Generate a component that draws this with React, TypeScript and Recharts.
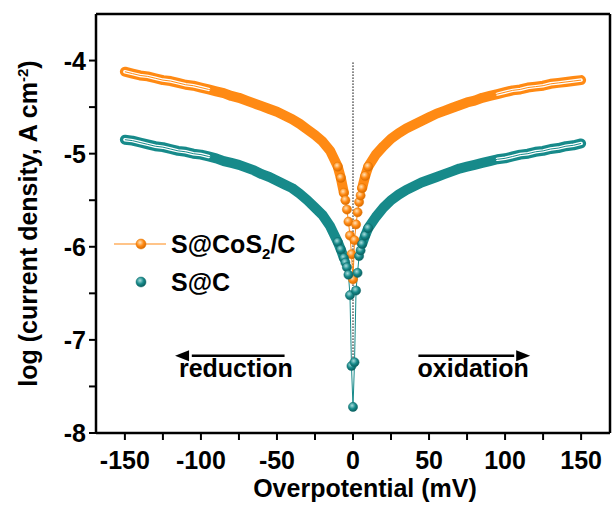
import React from 'react';
import { LineChart, Line, XAxis, YAxis, ReferenceLine, ReferenceDot } from 'recharts';

// overpotential grid (mV), shared by both curves
const potential = [
  -150, -145, -140, -135, -130, -125, -120, -115, -110, -105, -100, -95, -90, -85, -80, -75, -70, -65, -60, -55,
  -50, -45, -40, -35, -30, -25, -20, -15, -10, -8, -6, -5, -4, -3, -2, -1, 0,
  1, 2, 3, 4, 5, 6, 8, 10, 15, 20, 25, 30, 35, 40, 45, 50, 55, 60, 65, 70, 75, 80,
  85, 90, 95, 100, 105, 110, 115, 120, 125, 130, 135, 140, 145, 150,
];

// log(j) for S@CoS2/C
const logJCoS2C = [
  -4.12, -4.14, -4.16, -4.17, -4.19, -4.21, -4.22, -4.24, -4.26, -4.27, -4.29, -4.31, -4.33, -4.35, -4.38, -4.40, -4.43, -4.46, -4.49, -4.52,
  -4.55, -4.59, -4.63, -4.68, -4.74, -4.80, -4.87, -4.97, -5.14, -5.26, -5.42, -5.50, -5.60, -5.73, -5.88, -6.08, -6.35,
  -5.93, -5.76, -5.63, -5.52, -5.45, -5.37, -5.24, -5.14, -5.01, -4.92, -4.84, -4.78, -4.73, -4.69, -4.65, -4.61, -4.57, -4.54, -4.51, -4.48, -4.45, -4.43,
  -4.40, -4.38, -4.36, -4.34, -4.32, -4.31, -4.29, -4.28, -4.27, -4.25, -4.24, -4.23, -4.22, -4.21,
];

// log(j) for S@C
const logJSC = [
  -4.85, -4.86, -4.88, -4.90, -4.92, -4.93, -4.95, -4.97, -4.98, -5.00, -5.01, -5.03, -5.05, -5.08, -5.10, -5.12, -5.15, -5.18, -5.22, -5.25,
  -5.29, -5.33, -5.37, -5.43, -5.50, -5.58, -5.66, -5.78, -5.95, -6.03, -6.12, -6.17, -6.22, -6.30, -6.52, -7.28, -7.72,
  -7.24, -6.47, -6.28, -6.10, -6.04, -5.97, -5.88, -5.80, -5.68, -5.58, -5.50, -5.44, -5.39, -5.35, -5.31, -5.28, -5.25, -5.22, -5.19, -5.16, -5.14, -5.12,
  -5.10, -5.08, -5.06, -5.05, -5.03, -5.01, -5.00, -4.98, -4.97, -4.95, -4.94, -4.92, -4.91, -4.89,
];

const xTicks = [-150, -125, -100, -75, -50, -25, 0, 25, 50, 75, 100, 125, 150];
const yTicks = [-8, -7.5, -7, -6.5, -6, -5.5, -5, -4.5, -4];

const ORANGE = '#FF8A14';
const TEAL = '#178A8A';
const FONT = '"Liberation Sans", Arial, Helvetica, sans-serif';
const FS = 25;

const rows = potential.map((x, i) => ({ x, cos2: logJCoS2C[i], sc: logJSC[i] }));
// thick "tube" where the points pile up, hollow look at the flat ends
const tubeRows = rows.map((r) => (Math.abs(r.x) >= 6 ? r : { x: r.x, cos2: null, sc: null }));
const endRows = rows.map((r) => (Math.abs(r.x) >= 95 ? r : { x: r.x, cos2: null, sc: null }));

const makeDot = (grad: string, stroke: string) => (props: any) => {
  const { cx, cy, payload, index } = props;
  if (cx == null || cy == null || Math.abs(payload.x) > 10) return <g key={`e-${grad}-${index}`} />;
  return (
    <circle key={`d-${grad}-${index}`} cx={cx} cy={cy} r={4.6} fill={`url(#${grad})`} stroke={stroke} strokeWidth={0.5} />
  );
};

const XTick = (props: any) => {
  const { x, y, payload } = props;
  if (payload.value % 50 !== 0) return <g />;
  return (
    <text x={x} y={y} dy="0.71em" textAnchor="middle" fontFamily={FONT} fontWeight="bold" fontSize={FS} fill="#000">
      {payload.value}
    </text>
  );
};

const YTick = (props: any) => {
  const { x, y, payload } = props;
  if (!Number.isInteger(payload.value)) return <g />;
  return (
    <text x={x} y={y} dy="0.36em" textAnchor="end" fontFamily={FONT} fontWeight="bold" fontSize={FS} fill="#000">
      {payload.value}
    </text>
  );
};

const arrowHead = (dir: number) => (p: any) => (
  <polygon
    points={`${p.cx},${p.cy} ${p.cx - dir * 14},${p.cy - 5.5} ${p.cx - dir * 14},${p.cy + 5.5}`}
    fill="#000"
  />
);

const textMark = (value: string) => (p: any) => (
  <text x={p.cx} y={p.cy} textAnchor="middle" fontFamily={FONT} fontWeight="bold" fontSize={FS} fill="#000">
    {value}
  </text>
);

const App = () => {
  return (
    <div style={{ position: 'absolute', left: 0, top: 0, width: 612, height: 507, background: '#fff' }}>
      <LineChart width={612} height={507} data={rows} margin={{ top: 14, right: 2, left: 0, bottom: 0 }}>
        <defs>
          <radialGradient id="gO" cx="40%" cy="35%" r="65%">
            <stop offset="0%" stopColor="#FFE2B8" />
            <stop offset="55%" stopColor={ORANGE} />
            <stop offset="100%" stopColor="#D96A00" />
          </radialGradient>
          <radialGradient id="gT" cx="40%" cy="35%" r="65%">
            <stop offset="0%" stopColor="#A8DCDC" />
            <stop offset="55%" stopColor={TEAL} />
            <stop offset="100%" stopColor="#0B5E5E" />
          </radialGradient>
        </defs>
        <XAxis
          dataKey="x"
          type="number"
          domain={[-169, 169]}
          ticks={xTicks}
          allowDataOverflow
          height={74}
          tickSize={7}
          tickMargin={11}
          tick={<XTick />}
          axisLine={{ stroke: '#000', strokeWidth: 2.5 }}
          tickLine={{ stroke: '#000', strokeWidth: 2 }}
          label={{
            content: (p: any) => (
              <text
                x={p.viewBox.x + p.viewBox.width / 2 + 12}
                y={497}
                textAnchor="middle"
                fontFamily={FONT}
                fontWeight="bold"
                fontSize={FS}
                fill="#000"
              >
                Overpotential (mV)
              </text>
            ),
          }}
        />
        <YAxis
          type="number"
          domain={[-8, -3.5]}
          ticks={yTicks}
          allowDataOverflow
          width={96}
          tickSize={7}
          tickMargin={3}
          tick={<YTick />}
          axisLine={{ stroke: '#000', strokeWidth: 2.5 }}
          tickLine={{ stroke: '#000', strokeWidth: 2 }}
          label={{
            content: (p: any) => {
              const cy = p.viewBox.y + p.viewBox.height / 2;
              return (
                <text
                  x={37}
                  y={cy}
                  transform={`rotate(-90, 37, ${cy})`}
                  textAnchor="middle"
                  fontFamily={FONT}
                  fontWeight="bold"
                  fontSize={FS}
                  fill="#000"
                >
                  log (current density, A cm<tspan dy={-9} fontSize={15}>-2</tspan>
                  <tspan dy={9}>)</tspan>
                </text>
              );
            },
          }}
        />
        <ReferenceLine y={-3.5} stroke="#000" strokeWidth={2.5} />
        <ReferenceLine x={169} stroke="#000" strokeWidth={2.5} />
        <ReferenceLine
          segment={[{ x: 0, y: -4.02 }, { x: 0, y: -7.2 }]}
          stroke="#000"
          strokeWidth={1}
          strokeDasharray="1.5 1.5"
        />

        <Line data={tubeRows} dataKey="sc" stroke={TEAL} strokeWidth={10} strokeLinecap="round" strokeLinejoin="round" dot={false} activeDot={false} isAnimationActive={false} />
        <Line data={tubeRows} dataKey="cos2" stroke={ORANGE} strokeWidth={10} strokeLinecap="round" strokeLinejoin="round" dot={false} activeDot={false} isAnimationActive={false} />
        <Line data={endRows} dataKey="sc" stroke="#fff" strokeWidth={3.5} strokeLinecap="round" dot={false} activeDot={false} isAnimationActive={false} />
        <Line data={endRows} dataKey="cos2" stroke="#fff" strokeWidth={3.5} strokeLinecap="round" dot={false} activeDot={false} isAnimationActive={false} />
        <Line dataKey="cos2" stroke={ORANGE} strokeWidth={1} dot={makeDot('gO', '#E07400')} activeDot={false} isAnimationActive={false} />
        <Line dataKey="sc" stroke={TEAL} strokeWidth={1} dot={makeDot('gT', '#0E6A6A')} activeDot={false} isAnimationActive={false} />

        <ReferenceLine segment={[{ x: -106, y: -7.17 }, { x: -45, y: -7.17 }]} stroke="#000" strokeWidth={2.5} />
        <ReferenceDot x={-117} y={-7.17} shape={arrowHead(-1)} />
        <ReferenceDot x={-77} y={-7.4} shape={textMark('reduction')} />
        <ReferenceLine segment={[{ x: 43, y: -7.17 }, { x: 106, y: -7.17 }]} stroke="#000" strokeWidth={2.5} />
        <ReferenceDot x={116.5} y={-7.17} shape={arrowHead(1)} />
        <ReferenceDot x={79} y={-7.4} shape={textMark('oxidation')} />
      </LineChart>

      <svg width={612} height={507} style={{ position: 'absolute', left: 0, top: 0, pointerEvents: 'none' }}>
        <line x1={114} y1={244} x2={166} y2={244} stroke={ORANGE} strokeWidth={1.2} />
        <circle cx={141} cy={244} r={5} fill="url(#gO)" stroke="#E07400" strokeWidth={0.5} />
        <text x={171} y={253} fontFamily={FONT} fontWeight="bold" fontSize={FS} fill="#000">
          S@CoS<tspan dy={6} fontSize={15}>2</tspan>
          <tspan dy={-6}>/C</tspan>
        </text>
        <circle cx={141} cy={282} r={5} fill="url(#gT)" stroke="#0E6A6A" strokeWidth={0.5} />
        <text x={171} y={291} fontFamily={FONT} fontWeight="bold" fontSize={FS} fill="#000">
          S@C
        </text>
      </svg>
    </div>
  );
};

export default App;
